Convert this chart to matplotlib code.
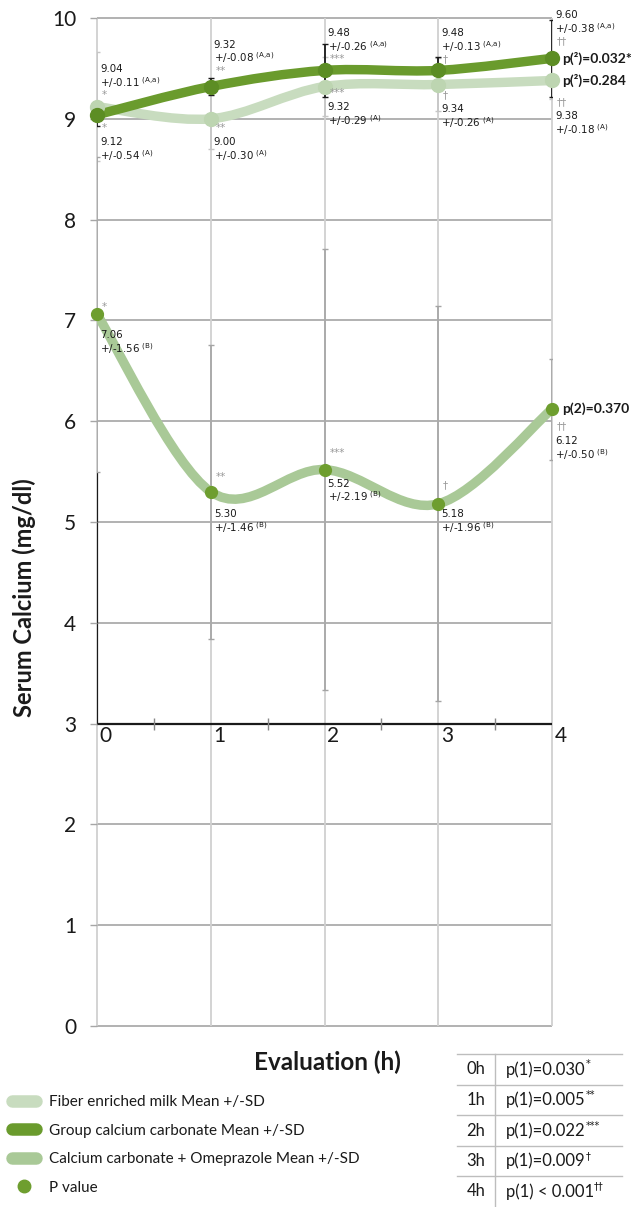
import numpy as np
import matplotlib.pyplot as plt
from matplotlib.path import Path
from matplotlib.patches import PathPatch
from matplotlib.lines import Line2D

plt.rcParams['mathtext.fontset'] = 'dejavusans'

# data
hours = [0, 1, 2, 3, 4]
fiber_mean = [9.12, 9.00, 9.32, 9.34, 9.38]
fiber_sd = [0.54, 0.30, 0.29, 0.26, 0.18]
group_mean = [9.04, 9.32, 9.48, 9.48, 9.60]
group_sd = [0.11, 0.08, 0.26, 0.13, 0.38]
omep_mean = [7.06, 5.30, 5.52, 5.18, 6.12]
omep_sd = [1.56, 1.46, 2.19, 1.96, 0.50]
stars = ['*', '**', '***', '\u2020', '\u2020\u2020']
p1_values = ['p(1)=0.030', 'p(1)=0.005', 'p(1)=0.022', 'p(1)=0.009', 'p(1) < 0.001']
p2_fiber = 'p(\u00b2)=0.284'
p2_group = 'p(\u00b2)=0.032*'
p2_omep = 'p(2)=0.370'
series_names = ['Fiber enriched milk Mean +/-SD',
                'Group calcium carbonate Mean +/-SD',
                'Calcium carbonate + Omeprazole Mean +/-SD',
                'P value']

c_fiber = '#c8dcbf'
c_fiber_dot = '#bdd5b1'
c_group = '#6a9b2d'
c_group_dot = '#5c8d24'
c_omep = '#a9c997'
c_omep_dot = '#6e9e2f'

W, H = 636, 1207


def fx(px):
    return px / W


def fy(py):
    return 1 - py / H


def smooth_path(x, y):
    # bezier smoothing like the spreadsheet "smoothed line"
    pts = np.column_stack([x, y]).astype(float)
    ext = np.vstack([pts[0], pts, pts[-1]])
    verts = [pts[0]]
    codes = [Path.MOVETO]
    for i in range(len(pts) - 1):
        p0, p1, p2, p3 = ext[i], ext[i + 1], ext[i + 2], ext[i + 3]
        verts += [p1 + (p2 - p0) / 6, p2 - (p3 - p1) / 6, p2]
        codes += [Path.CURVE4] * 3
    return Path(verts, codes)


fig = plt.figure(figsize=(W / 100, H / 100), dpi=100)
ax = fig.add_axes([fx(97), fy(1026), fx(552) - fx(97), fy(18) - fy(1026)])
ax.set_xlim(0, 4)
ax.set_ylim(0, 10)
for s in ax.spines.values():
    s.set_visible(False)

ax.set_yticks(range(11))
ax.set_xticks(hours)
ax.set_xticklabels([])
ax.tick_params(axis='x', length=0)
ax.tick_params(axis='y', length=5, width=1, color='#a6a6a6', pad=10,
               labelsize=15, labelcolor='#1a1a1a')
for lab in ax.get_yticklabels():
    lab.set_family('Lato')

ax.hlines(range(11), 0, 4, colors='#ababab', lw=1.3, zorder=0, clip_on=False)
ax.vlines(hours, 0, 10, colors='#d0d0d0', lw=1.3, zorder=0, clip_on=False)

# x axis crossing at 3
ax.hlines(3, 0, 4, colors='#1a1a1a', lw=1.6, zorder=1, clip_on=False)
ax.plot([0.5, 1.5, 2.5, 3.5], [3] * 4, ls='none', marker='|', ms=8, mew=1,
        color='#888888', zorder=1)
ax.vlines(0, 3, omep_mean[0] - omep_sd[0], colors='#1a1a1a', lw=1.6, zorder=1)
for h in hours:
    ax.annotate(str(h), (h, 3), xytext=(2, -2), textcoords='offset points',
                ha='left', va='top', fontsize=15, family='Lato', color='#1a1a1a')

# error bars
ax.errorbar(hours, fiber_mean, yerr=fiber_sd, fmt='none', ecolor='#c6c6c6',
            elinewidth=1.2, capsize=2.5, zorder=2)
ax.errorbar(hours, omep_mean, yerr=omep_sd, fmt='none', ecolor='#a4a4a4',
            elinewidth=1.2, capsize=2.5, zorder=2)

# smoothed lines
for m, col in [(fiber_mean, c_fiber), (group_mean, c_group), (omep_mean, c_omep)]:
    ax.add_patch(PathPatch(smooth_path(hours, m), fill=False, ec=col, lw=6.8,
                           capstyle='round', joinstyle='round', zorder=3))

ax.errorbar(hours, group_mean, yerr=group_sd, fmt='none', ecolor='#1a1a1a',
            elinewidth=1.3, capsize=2.5, zorder=4)

ax.plot(hours, fiber_mean, ls='none', marker='o', ms=10, color=c_fiber_dot,
        zorder=5, clip_on=False)
ax.plot(hours, group_mean, ls='none', marker='o', ms=10, color=c_group_dot,
        zorder=6, clip_on=False)
ax.plot(hours, omep_mean, ls='none', marker='o', ms=8.5, color=c_omep_dot,
        zorder=6, clip_on=False)

# value labels (offsets in pixels, converted to points)
lab_kw = dict(textcoords='offset points', ha='left', va='center',
              family='DejaVu Sans', color='#1a1a1a', zorder=8)
star_kw = dict(textcoords='offset points', ha='left', va='center',
               family='DejaVu Sans', color='#9a9a9a', fontsize=7.5, zorder=8)


def put_labels(mean, sd, sup, val_dy, star_dy, sd_gap=13.5):
    for i, h in enumerate(hours):
        v = val_dy[i]
        ax.annotate(f'{mean[i]:.2f}', (h, mean[i]), xytext=(2.2, -v * 0.72),
                    fontsize=7.4, **lab_kw)
        ax.annotate(f'+/-{sd[i]:.2f} ' + r'${}^{\mathrm{' + sup + '}}$',
                    (h, mean[i]), xytext=(2.2, -(v + sd_gap) * 0.72),
                    fontsize=7.4, **lab_kw)
        ax.annotate(stars[i], (h, mean[i]), xytext=(3.5, -star_dy[i] * 0.72),
                    **star_kw)


g_val = [-46, -42, -37, -37, -43]
put_labels(group_mean, group_sd, '(A{,}a)', g_val, [v + 26 for v in g_val])
f_val = [35, 23, 20.5, 24.5, 35.5]
put_labels(fiber_mean, fiber_sd, '(A)', f_val, [v - 14 for v in f_val])
o_val = [21, 22, 14, 10, 32]
put_labels(omep_mean, omep_sd, '(B)', o_val, [-7, -15, -17, -19, 17])

p_kw = dict(textcoords='offset points', ha='left', va='center', fontsize=10,
            family='Lato', weight='bold', color='#1a1a1a', annotation_clip=False)
ax.annotate(p2_group, (4, group_mean[-1]), xytext=(7, 0), **p_kw)
ax.annotate(p2_fiber, (4, fiber_mean[-1]), xytext=(7, 0), **p_kw)
ax.annotate(p2_omep, (4, omep_mean[-1]), xytext=(7, 0), **p_kw)

# axis titles
fig.text(fx(24), fy(598), 'Serum Calcium (mg/dl)', rotation=90, ha='center',
         va='center', fontsize=17, family='Lato', weight='bold', color='#1a1a1a')
fig.text(fx(327), fy(1062), 'Evaluation (h)', ha='center', va='center',
         fontsize=17.5, family='Lato', weight='bold', color='#1a1a1a')

# legend
handles = [Line2D([], [], color=c_fiber, lw=9, solid_capstyle='round'),
           Line2D([], [], color=c_group, lw=9, solid_capstyle='round'),
           Line2D([], [], color=c_omep, lw=9, solid_capstyle='round'),
           Line2D([], [], ls='none', marker='o', ms=9, color=c_omep_dot)]
leg = fig.legend(handles, series_names, loc='upper left',
                 bbox_to_anchor=(fx(12), fy(1095)), frameon=False,
                 prop={'family': 'Lato', 'size': 11}, borderpad=0,
                 borderaxespad=0, handlelength=1.6, handletextpad=0.8,
                 labelspacing=0.95)
for t in leg.get_texts():
    t.set_color('#1a1a1a')

# p(1) table
row_top = [1054, 1084.5, 1115, 1145.5, 1176]
renderer = fig.canvas.get_renderer()
for i, r in enumerate(row_top):
    fig.add_artist(Line2D([fx(457), fx(622)], [fy(r), fy(r)], color='#bdbdbd', lw=1))
    fig.text(fx(476), fy(r + 15.5), f'{hours[i]}h', ha='center', va='center',
             fontsize=12, family='Lato', color='#1a1a1a')
    t = fig.text(fx(506), fy(r + 15.5), p1_values[i], ha='left',
                 va='center', fontsize=12, family='Lato', color='#1a1a1a')
    bb = t.get_window_extent(renderer)
    fig.text(bb.x1 / fig.bbox.width, fy(r + 10.5), stars[i], ha='left',
             va='center', fontsize=7, family='DejaVu Sans', color='#1a1a1a')
fig.add_artist(Line2D([fx(495), fx(495)], [fy(1054), fy(1207)], color='#bdbdbd', lw=1))

fig.savefig('out.png', dpi=100)
